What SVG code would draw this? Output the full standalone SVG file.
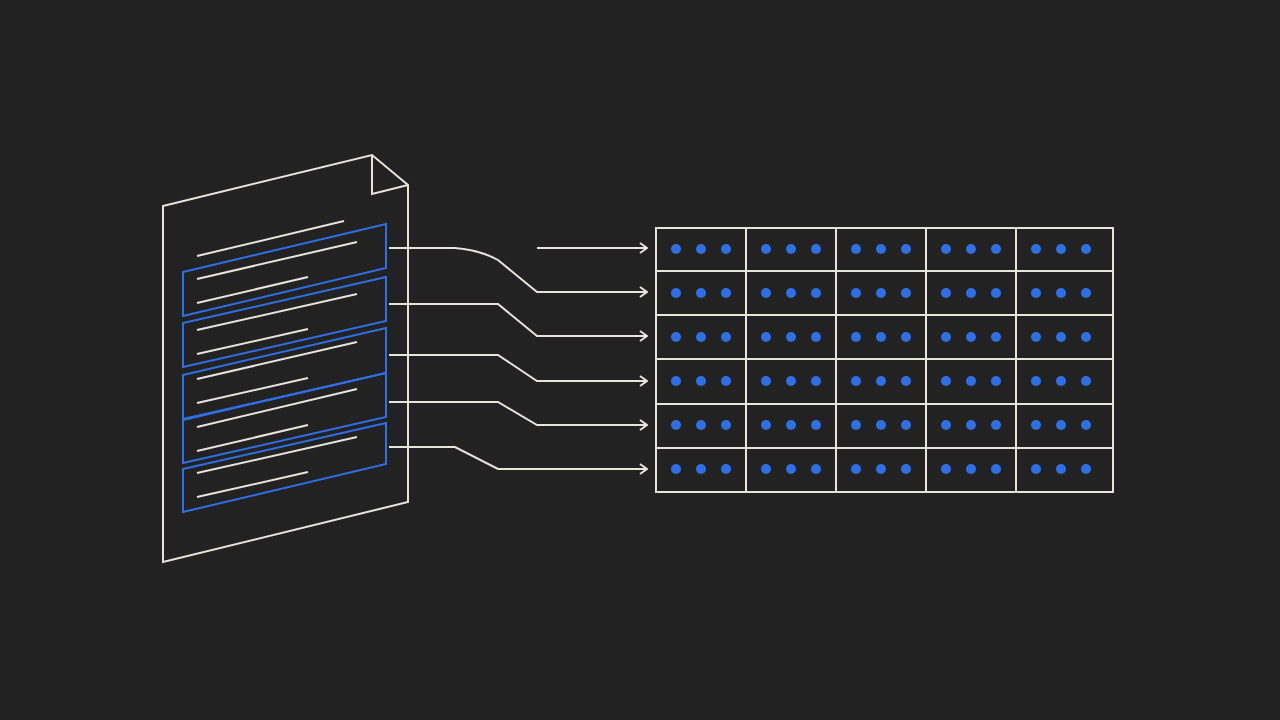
<svg xmlns="http://www.w3.org/2000/svg" width="1280" height="720" viewBox="0 0 1280 720">
<defs>
<style>
.w{fill:none;stroke:#e8e4dc;stroke-width:2;stroke-linejoin:miter}
.b{fill:none;stroke:#2f6fe6;stroke-width:2}
.d{fill:#2f6fe6}
.c{fill:none;stroke:#e8e4dc;stroke-width:2;marker-end:url(#ar)}
</style>
<marker id="ar" viewBox="0 0 12 12" refX="11" refY="6" markerWidth="12" markerHeight="12" markerUnits="userSpaceOnUse" orient="auto">
<path d="M4,1 L11,6 L4,11" fill="none" stroke="#e8e4dc" stroke-width="2"/>
</marker>
<g id="dots3"><circle cx="0" cy="0" r="5" class="d"/><circle cx="25" cy="0" r="5" class="d"/><circle cx="50" cy="0" r="5" class="d"/></g>
<g id="drow"><use href="#dots3" x="0"/><use href="#dots3" x="90"/><use href="#dots3" x="180"/><use href="#dots3" x="270"/><use href="#dots3" x="360"/></g>
</defs>
<rect width="1280" height="720" fill="#222222"/>
<g id="document">
<path class="w" d="M163,206 L372,155 L408,185 L408,502 L163,562 Z"/>
<path class="w" d="M372,155 L372,194 L408,185"/>
<g class="w">
<line x1="197" y1="256" x2="344" y2="221"/>
<line x1="197" y1="279" x2="357" y2="242"/>
<line x1="197" y1="303" x2="308" y2="277"/>
<line x1="197" y1="330" x2="357" y2="294"/>
<line x1="197" y1="354" x2="308" y2="329"/>
<line x1="197" y1="379" x2="357" y2="342"/>
<line x1="197" y1="403" x2="308" y2="378"/>
<line x1="197" y1="427" x2="357" y2="389"/>
<line x1="197" y1="451" x2="308" y2="425"/>
<line x1="197" y1="473" x2="357" y2="437"/>
<line x1="197" y1="497" x2="308" y2="472"/>
</g>
<g class="b">
<path d="M183,272 L386,224 L386,268 L183,316 Z"/>
<path d="M183,323 L386,277 L386,321 L183,367 Z"/>
<path d="M183,375 L386,328 L386,373 L183,419 Z"/>
<path d="M183,420 L386,373 L386,417 L183,463 Z"/>
<path d="M183,469 L386,423 L386,464 L183,512 Z"/>
</g>
</g>
<g id="connectors">
<path class="c" d="M537,248 L647,248"/>
<path class="c" d="M389,248 L455,248 Q480,250 498,260 L537,292 L647,292"/>
<path class="c" d="M389,304 L498,304 L537,336 L647,336"/>
<path class="c" d="M389,355 L498,355 L537,381 L647,381"/>
<path class="c" d="M389,402 L498,402 L537,425 L647,425"/>
<path class="c" d="M389,447 L455,447 L498,469 L647,469"/>
</g>
<g id="table">
<rect class="w" x="656" y="228" width="457" height="264"/>
<path class="w" d="M746,228V492M836,228V492M926,228V492M1016,228V492M656,271H1113M656,315H1113M656,359H1113M656,404H1113M656,448H1113"/>
<use href="#drow" x="676" y="249"/>
<use href="#drow" x="676" y="293"/>
<use href="#drow" x="676" y="337"/>
<use href="#drow" x="676" y="381"/>
<use href="#drow" x="676" y="425"/>
<use href="#drow" x="676" y="469"/>
</g>
</svg>
